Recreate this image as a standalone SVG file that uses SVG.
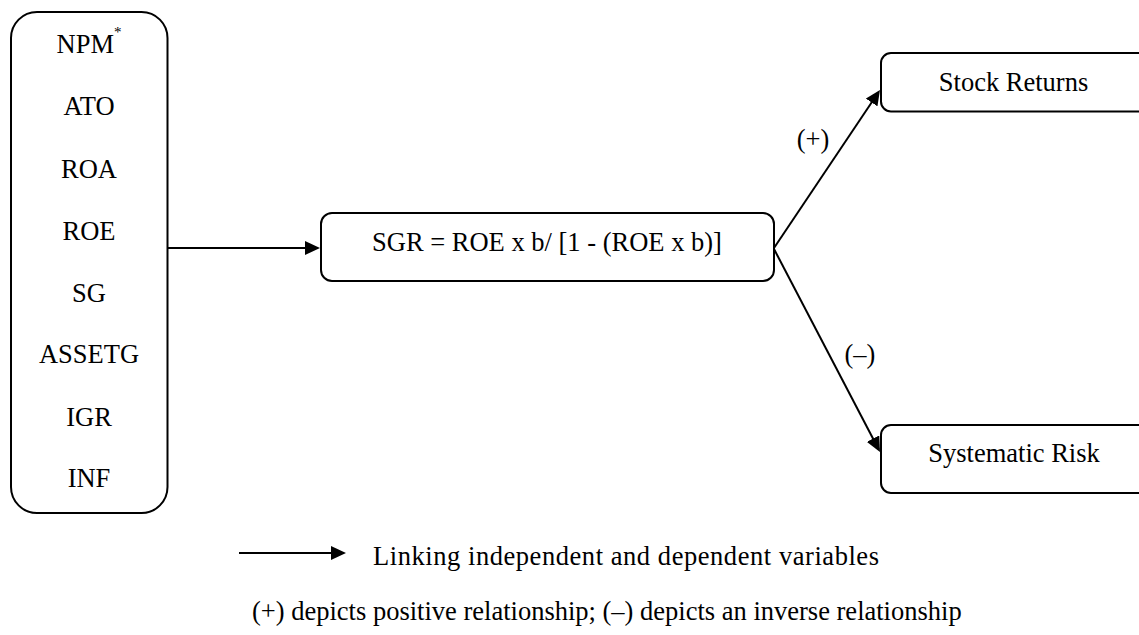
<svg xmlns="http://www.w3.org/2000/svg" width="1139" height="635" viewBox="0 0 1139 635">
<style>
  .box { fill: #ffffff; stroke: #000000; stroke-width: 2; }
  .lbl { font-family: "Liberation Serif", "Times New Roman", serif; font-size: 26.5px; fill: #000000; }
  .mid { text-anchor: middle; }
  .conn { stroke: #000000; stroke-width: 2; fill: none; marker-end: url(#arrow); }
</style>
<defs>
  <marker id="arrow" markerUnits="userSpaceOnUse" markerWidth="16" markerHeight="14" refX="12" refY="7" orient="auto">
    <path d="M0,0 L15,7 L0,14 z" fill="#000000"/>
  </marker>
</defs>
<rect width="1139" height="635" fill="#ffffff"/>

<g id="node-independent">
  <rect class="box" x="11" y="12" width="156.5" height="501" rx="26" ry="26"/>
  <text class="lbl mid" x="89" y="53">NPM<tspan font-size="15" dy="-16">*</tspan></text>
  <text class="lbl mid" x="89" y="115">ATO</text>
  <text class="lbl mid" x="89" y="178">ROA</text>
  <text class="lbl mid" x="89" y="240">ROE</text>
  <text class="lbl mid" x="89" y="302">SG</text>
  <text class="lbl mid" x="89" y="363">ASSETG</text>
  <text class="lbl mid" x="89" y="426">IGR</text>
  <text class="lbl mid" x="89" y="487">INF</text>
</g>

<g id="node-sgr">
  <rect class="box" x="321" y="213" width="453" height="68" rx="11" ry="11"/>
  <text class="lbl mid" x="547" y="251">SGR = ROE x b/ [1 - (ROE x b)]</text>
</g>

<g id="node-stock-returns">
  <rect class="box" x="881" y="53" width="280" height="58.5" rx="10" ry="10"/>
  <text class="lbl mid" x="1013.5" y="91">Stock Returns</text>
</g>

<g id="node-systematic-risk">
  <rect class="box" x="881" y="425" width="280" height="68" rx="10" ry="10"/>
  <text class="lbl mid" x="1014" y="462">Systematic Risk</text>
</g>

<g id="connectors">
  <line class="conn" x1="168" y1="248" x2="317" y2="248"/>
  <line class="conn" x1="774" y1="248" x2="878.3" y2="92.5"/>
  <line class="conn" x1="774" y1="249" x2="878.6" y2="449.3"/>
  <text class="lbl mid" x="813" y="148">(+)</text>
  <text class="lbl mid" x="860" y="363">(–)</text>
</g>

<g id="legend">
  <line class="conn" x1="239" y1="553" x2="343" y2="553"/>
  <text class="lbl" x="373" y="565" textLength="506" lengthAdjust="spacing">Linking independent and dependent variables</text>
  <text class="lbl" x="252" y="620">(+) depicts positive relationship; (–) depicts an inverse relationship</text>
</g>
</svg>
